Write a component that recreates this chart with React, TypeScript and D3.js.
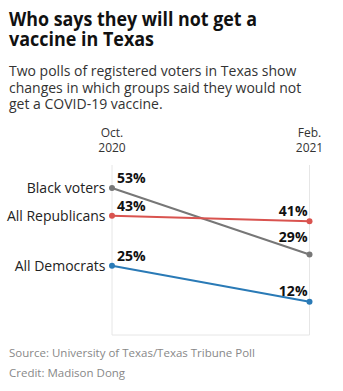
import React from "react";
import * as d3 from "d3";

const periods = ["Oct.\n2020", "Feb.\n2021"];
const groups = ["Black voters", "All Republicans", "All Democrats"];
const octValues = [53, 43, 25];
const febValues = [29, 41, 12];
const colors = ["#777777", "#d9534f", "#2a7ab6"];
const rightLabelDy = [-13, -5, -6];

const W = 343;
const H = 391;

export default function App() {
  const x = d3.scalePoint<string>().domain(periods).range([112, 309.5]);
  const y = d3.scaleLinear().domain([0, 53]).range([335, 188]);
  const line = d3
    .line<[string, number]>()
    .x((d) => x(d[0]) as number)
    .y((d) => y(d[1]));
  const font = "'Open Sans', sans-serif";

  return (
    <svg
      width={W}
      height={H}
      style={{ position: "absolute", left: 0, top: 0, background: "#fff" }}
      fontFamily={font}
    >
      <text
        x={9}
        y={26}
        fontSize={19}
        fontWeight={700}
        fill="#111"
        textLength={248}
        lengthAdjust="spacingAndGlyphs"
      >
        Who says they will not get a
      </text>
      <text
        x={9}
        y={45.5}
        fontSize={19}
        fontWeight={700}
        fill="#111"
        textLength={145}
        lengthAdjust="spacingAndGlyphs"
      >
        vaccine in Texas
      </text>
      {[
        "Two polls of registered voters in Texas show",
        "changes in which groups said they would not",
        "get a COVID-19 vaccine.",
      ].map((t, i) => (
        <text key={i} x={9} y={76 + i * 16.5} fontSize={14} fill="#333">
          {t}
        </text>
      ))}

      {periods.map((p) => (
        <g key={p}>
          <line
            x1={x(p)}
            x2={x(p)}
            y1={165}
            y2={y(0)}
            stroke="#e6e6e6"
            strokeWidth={1}
          />
          {p.split("\n").map((t, i) => (
            <text
              key={i}
              x={x(p)}
              y={137 + i * 15}
              textAnchor="middle"
              fontSize={12}
              fill="#333"
            >
              {t}
            </text>
          ))}
        </g>
      ))}
      <line
        x1={x(periods[0])}
        x2={x(periods[1])}
        y1={y(0)}
        y2={y(0)}
        stroke="#e6e6e6"
        strokeWidth={1}
      />

      {groups.map((g, i) => {
        const pts: [string, number][] = [
          [periods[0], octValues[i]],
          [periods[1], febValues[i]],
        ];
        return (
          <g key={g}>
            <path
              d={line(pts) as string}
              fill="none"
              stroke={colors[i]}
              strokeWidth={2}
            />
            {pts.map((d, j) => (
              <circle
                key={j}
                cx={x(d[0])}
                cy={y(d[1])}
                r={3}
                fill={colors[i]}
              />
            ))}
            <text
              x={(x(periods[0]) as number) - 6.5}
              y={y(octValues[i]) + 5}
              textAnchor="end"
              fontSize={14}
              fill="#222"
            >
              {g}
            </text>
            <text
              x={(x(periods[0]) as number) + 5}
              y={y(octValues[i]) - 5}
              fontSize={14}
              fontWeight={700}
              fill="#111"
            >
              {octValues[i]}%
            </text>
            <text
              x={(x(periods[1]) as number) - 2}
              y={y(febValues[i]) + rightLabelDy[i]}
              textAnchor="end"
              fontSize={14}
              fontWeight={700}
              fill="#111"
            >
              {febValues[i]}%
            </text>
          </g>
        );
      })}

      <text x={9} y={357} fontSize={11.5} fill="#888">
        Source: University of Texas/Texas Tribune Poll
      </text>
      <text x={9} y={376.5} fontSize={11.5} fill="#888">
        Credit: Madison Dong
      </text>
    </svg>
  );
}
